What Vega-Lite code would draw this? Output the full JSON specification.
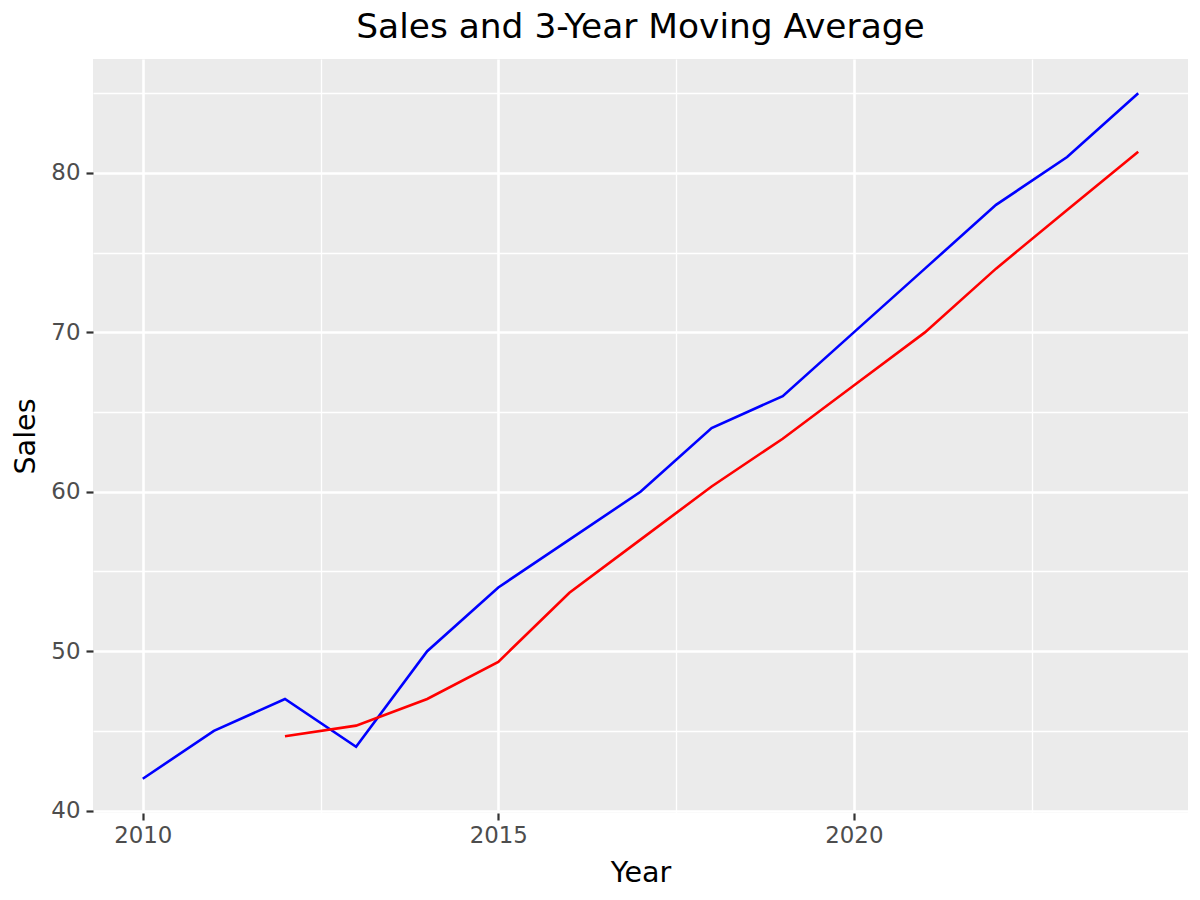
{
  "$schema": "https://vega.github.io/schema/vega-lite/v6.json",
  "autosize": {"type": "none"},
  "padding": {"left": 93, "top": 59, "right": 12, "bottom": 87},
  "width": 1095,
  "height": 754,
  "background": "white",
  "title": {
    "text": "Sales and 3-Year Moving Average",
    "font": "DejaVu Sans",
    "fontSize": 34.4,
    "fontWeight": "normal",
    "color": "#000000",
    "anchor": "middle",
    "frame": "group",
    "baseline": "alphabetic",
    "offset": -13
  },
  "data": {
    "values": [
      {"year": 2010, "series": "Sales", "value": 42},
      {"year": 2011, "series": "Sales", "value": 45},
      {"year": 2012, "series": "Sales", "value": 47},
      {"year": 2013, "series": "Sales", "value": 44},
      {"year": 2014, "series": "Sales", "value": 50},
      {"year": 2015, "series": "Sales", "value": 54},
      {"year": 2016, "series": "Sales", "value": 57},
      {"year": 2017, "series": "Sales", "value": 60},
      {"year": 2018, "series": "Sales", "value": 64},
      {"year": 2019, "series": "Sales", "value": 66},
      {"year": 2020, "series": "Sales", "value": 70},
      {"year": 2021, "series": "Sales", "value": 74},
      {"year": 2022, "series": "Sales", "value": 78},
      {"year": 2023, "series": "Sales", "value": 81},
      {"year": 2024, "series": "Sales", "value": 85},
      {"year": 2012, "series": "MA3", "value": 44.67},
      {"year": 2013, "series": "MA3", "value": 45.33},
      {"year": 2014, "series": "MA3", "value": 47.0},
      {"year": 2015, "series": "MA3", "value": 49.33},
      {"year": 2016, "series": "MA3", "value": 53.67},
      {"year": 2017, "series": "MA3", "value": 57.0},
      {"year": 2018, "series": "MA3", "value": 60.33},
      {"year": 2019, "series": "MA3", "value": 63.33},
      {"year": 2020, "series": "MA3", "value": 66.67},
      {"year": 2021, "series": "MA3", "value": 70.0},
      {"year": 2022, "series": "MA3", "value": 74.0},
      {"year": 2023, "series": "MA3", "value": 77.67},
      {"year": 2024, "series": "MA3", "value": 81.33}
    ]
  },
  "mark": {"type": "line", "strokeWidth": 2.6, "clip": true},
  "encoding": {
    "x": {
      "field": "year",
      "type": "quantitative",
      "title": "Year",
      "scale": {"domain": [2009.3, 2024.7], "nice": false, "zero": false},
      "axis": {
        "values": [2010, 2012.5, 2015, 2017.5, 2020, 2022.5],
        "labelExpr": "datum.value % 5 === 0 ? format(datum.value, 'd') : ''",
        "tickOpacity": {"condition": {"test": "datum.value % 5 !== 0", "value": 0}, "value": 1},
        "gridWidth": {"condition": {"test": "datum.value % 5 !== 0", "value": 1.3}, "value": 2.6},
        "labelPadding": 4,
        "titlePadding": 12
      }
    },
    "y": {
      "field": "value",
      "type": "quantitative",
      "title": "Sales",
      "scale": {"domain": [39.85, 87.15], "nice": false, "zero": false},
      "axis": {
        "values": [40, 45, 50, 55, 60, 65, 70, 75, 80, 85],
        "labelExpr": "datum.value % 10 === 0 ? format(datum.value, 'd') : ''",
        "tickOpacity": {"condition": {"test": "datum.value % 10 !== 0", "value": 0}, "value": 1},
        "gridWidth": {"condition": {"test": "datum.value % 10 !== 0", "value": 1.3}, "value": 2.6},
        "labelPadding": 6,
        "titlePadding": 10
      }
    },
    "color": {
      "field": "series",
      "type": "nominal",
      "scale": {"domain": ["Sales", "MA3"], "range": ["#0000FF", "#FF0000"]},
      "legend": null
    }
  },
  "config": {
    "view": {"fill": "#EBEBEB", "stroke": null},
    "axis": {
      "domain": false,
      "grid": true,
      "gridColor": "#FFFFFF",
      "gridOpacity": 1,
      "tickColor": "#333333",
      "tickSize": 7,
      "tickWidth": 2.2,
      "labelFont": "DejaVu Sans",
      "labelFontSize": 22.9,
      "labelColor": "#4D4D4D",
      "titleFont": "DejaVu Sans",
      "titleFontSize": 28.6,
      "titleFontWeight": "normal",
      "titleColor": "#000000"
    }
  }
}
